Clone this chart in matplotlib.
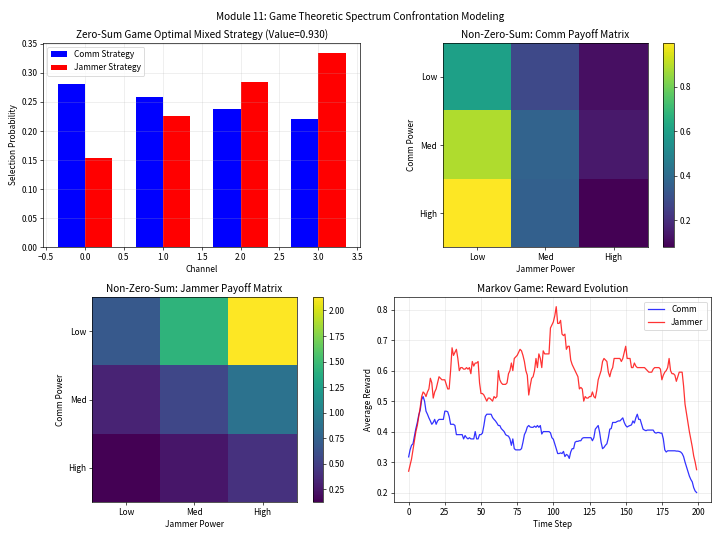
import matplotlib
matplotlib.use('Agg')
import matplotlib.pyplot as plt
import numpy as np

plt.rcParams['font.family'] = ['Noto Sans CJK SC', 'DejaVu Sans']

# zero-sum game strategies
channels = [0, 1, 2, 3]
comm_strategy = [0.281, 0.258, 0.238, 0.221]
jammer_strategy = [0.154, 0.225, 0.284, 0.335]
game_value = 0.930

# non-zero-sum payoff matrices (rows: comm power, cols: jammer power)
power_labels = ['Low', 'Med', 'High']
comm_payoff = [[0.60, 0.28, 0.115],
               [0.89, 0.37, 0.14],
               [0.998, 0.36, 0.078]]
jammer_payoff = [[0.69, 1.43, 2.128],
                 [0.33, 0.55, 0.88],
                 [0.128, 0.25, 0.41]]

# markov game reward evolution (moving average)
comm_reward = [
  0.317, 0.34, 0.355, 0.36, 0.385, 0.41, 0.43, 0.455, 0.47, 0.505,
  0.515, 0.50, 0.467, 0.457, 0.445, 0.435, 0.424, 0.43, 0.44, 0.424,
  0.435, 0.44, 0.44, 0.44, 0.44, 0.467, 0.467, 0.465, 0.45, 0.424,
  0.424, 0.424, 0.42, 0.39, 0.39, 0.39, 0.39, 0.39, 0.376, 0.387,
  0.38, 0.376, 0.38, 0.376, 0.376, 0.376, 0.40, 0.376, 0.376, 0.39,
  0.39, 0.395, 0.42, 0.45, 0.457, 0.457, 0.457, 0.457, 0.446, 0.44,
  0.435, 0.428, 0.42, 0.42, 0.41, 0.405, 0.40, 0.39, 0.387, 0.385,
  0.376, 0.355, 0.376, 0.344, 0.34, 0.34, 0.34, 0.34, 0.344, 0.365,
  0.39, 0.40, 0.415, 0.42, 0.415, 0.414, 0.414, 0.418, 0.414, 0.42,
  0.414, 0.42, 0.392, 0.40, 0.40, 0.40, 0.40, 0.40, 0.396, 0.38,
  0.375, 0.36, 0.344, 0.328, 0.328, 0.33, 0.328, 0.335, 0.318, 0.325,
  0.322, 0.312, 0.333, 0.344, 0.344, 0.365, 0.368, 0.368, 0.37, 0.37,
  0.378, 0.38, 0.38, 0.38, 0.38, 0.38, 0.38, 0.37, 0.38, 0.408,
  0.414, 0.42, 0.397, 0.365, 0.344, 0.348, 0.355, 0.36, 0.38, 0.408,
  0.41, 0.43, 0.43, 0.43, 0.433, 0.435, 0.435, 0.44, 0.445, 0.43,
  0.42, 0.415, 0.418, 0.42, 0.422, 0.435, 0.428, 0.445, 0.457, 0.44,
  0.44, 0.424, 0.408, 0.405, 0.403, 0.405, 0.405, 0.405, 0.405, 0.405,
  0.397, 0.395, 0.397, 0.397, 0.395, 0.395, 0.376, 0.34, 0.333, 0.337,
  0.337, 0.337, 0.337, 0.337, 0.337, 0.336, 0.336, 0.335, 0.333, 0.328,
  0.318, 0.30, 0.285, 0.27, 0.254, 0.243, 0.235, 0.216, 0.205, 0.20]
jammer_reward = [
  0.27, 0.29, 0.31, 0.34, 0.37, 0.40, 0.42, 0.45, 0.48, 0.515,
  0.53, 0.525, 0.515, 0.53, 0.54, 0.575, 0.56, 0.51, 0.53, 0.54,
  0.56, 0.58, 0.575, 0.57, 0.57, 0.57, 0.555, 0.54, 0.54, 0.60,
  0.675, 0.65, 0.66, 0.67, 0.64, 0.60, 0.61, 0.61, 0.605, 0.605,
  0.61, 0.605, 0.61, 0.59, 0.63, 0.615, 0.625, 0.625, 0.63, 0.56,
  0.525, 0.525, 0.52, 0.51, 0.50, 0.51, 0.51, 0.505, 0.50, 0.515,
  0.51, 0.515, 0.60, 0.57, 0.56, 0.555, 0.555, 0.555, 0.56, 0.59,
  0.60, 0.625, 0.60, 0.64, 0.645, 0.65, 0.66, 0.67, 0.665, 0.65,
  0.63, 0.60, 0.585, 0.52, 0.55, 0.575, 0.58, 0.60, 0.64, 0.61,
  0.655, 0.64, 0.61, 0.665, 0.655, 0.655, 0.655, 0.655, 0.74, 0.75,
  0.76, 0.78, 0.81, 0.755, 0.755, 0.765, 0.72, 0.715, 0.72, 0.67,
  0.68, 0.68, 0.635, 0.62, 0.61, 0.60, 0.59, 0.58, 0.54, 0.545,
  0.54, 0.50, 0.515, 0.51, 0.51, 0.515, 0.515, 0.53, 0.515, 0.51,
  0.535, 0.57, 0.585, 0.60, 0.63, 0.64, 0.635, 0.63, 0.595, 0.58,
  0.60, 0.61, 0.64, 0.64, 0.64, 0.64, 0.64, 0.63, 0.64, 0.66,
  0.68, 0.64, 0.64, 0.64, 0.61, 0.61, 0.625, 0.615, 0.61, 0.61,
  0.61, 0.61, 0.61, 0.61, 0.605, 0.60, 0.595, 0.595, 0.595, 0.605,
  0.61, 0.61, 0.61, 0.61, 0.605, 0.57, 0.585, 0.595, 0.60, 0.61,
  0.64, 0.60, 0.59, 0.59, 0.585, 0.565, 0.58, 0.595, 0.595, 0.595,
  0.55, 0.49, 0.46, 0.43, 0.40, 0.375, 0.35, 0.32, 0.30, 0.275]


fig, axes = plt.subplots(2, 2, figsize=(12, 538 / 60), dpi=60)
fig.suptitle('Module 11: Game Theoretic Spectrum Confrontation Modeling', fontsize=12)

# zero-sum bars
ax = axes[0, 0]
x = np.array(channels)
w = 0.35
ax.bar(x - w / 2, comm_strategy, w, color='blue', label='Comm Strategy')
ax.bar(x + w / 2, jammer_strategy, w, color='red', label='Jammer Strategy')
ax.set_title('Zero-Sum Game Optimal Mixed Strategy (Value=%.3f)' % game_value)
ax.set_xlabel('Channel')
ax.set_ylabel('Selection Probability')
ax.legend(loc='upper left')
ax.grid(True, alpha=0.3)

# comm payoff
ax = axes[0, 1]
im = ax.imshow(np.array(comm_payoff), cmap='viridis')
ax.set_title('Non-Zero-Sum: Comm Payoff Matrix')
ax.set_xticks(range(3))
ax.set_xticklabels(power_labels)
ax.set_yticks(range(3))
ax.set_yticklabels(power_labels)
ax.set_xlabel('Jammer Power')
ax.set_ylabel('Comm Power')
plt.colorbar(im, ax=ax)

# jammer payoff
ax = axes[1, 0]
im = ax.imshow(np.array(jammer_payoff), cmap='viridis')
ax.set_title('Non-Zero-Sum: Jammer Payoff Matrix')
ax.set_xticks(range(3))
ax.set_xticklabels(power_labels)
ax.set_yticks(range(3))
ax.set_yticklabels(power_labels)
ax.set_xlabel('Jammer Power')
ax.set_ylabel('Comm Power')
plt.colorbar(im, ax=ax)

# markov game
ax = axes[1, 1]
steps = np.arange(len(comm_reward))
ax.plot(steps, comm_reward, 'b-', alpha=0.8, label='Comm')
ax.plot(steps, jammer_reward, 'r-', alpha=0.8, label='Jammer')
ax.set_title('Markov Game: Reward Evolution')
ax.set_xlabel('Time Step')
ax.set_ylabel('Average Reward')
ax.legend()
ax.grid(True, alpha=0.3)

plt.tight_layout()
plt.savefig('out.png')
